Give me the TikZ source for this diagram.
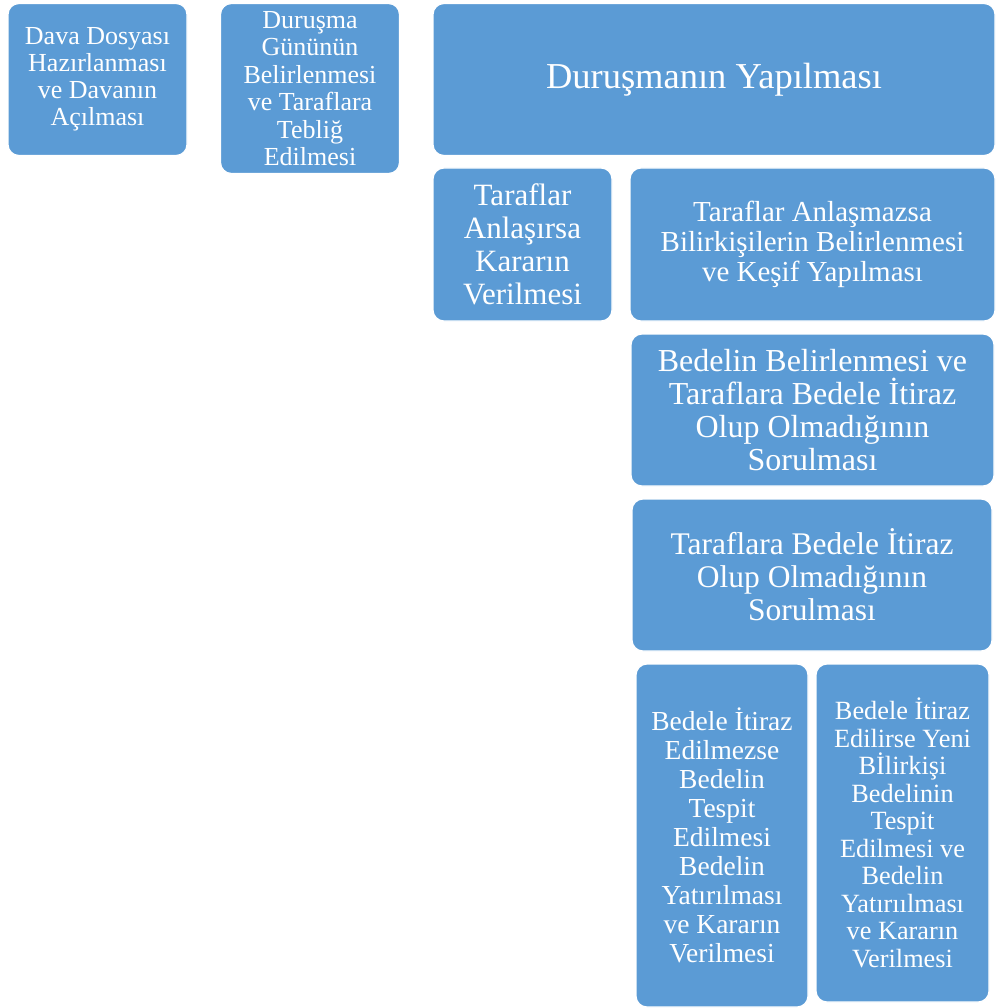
\documentclass[tikz,border=0pt]{standalone}
\usepackage{fontspec}
\setmainfont{Liberation Serif}
\definecolor{boxblue}{HTML}{5B9BD5}
\tikzset{
  stepbox/.style={rectangle, rounded corners=11pt, fill=boxblue, draw=white,
    line width=1.2pt, text=white, align=center, inner sep=0pt},
}
\newcommand{\fs}[1]{\fontsize{#1}{1.04*#1}\selectfont}
\newcommand{\boxfont}[2]{\fontsize{#1}{#2}\selectfont}
\begin{document}
\begin{tikzpicture}[x=1pt,y=-1pt]
\useasboundingbox (0,0) rectangle (996,1008);

% first row
\node[stepbox, minimum width=179pt, minimum height=152pt,
  font=\boxfont{26}{27}] (dava) at (97.5,79.5)
  {Dava Dosyası\\Hazırlanması\\ve Davanın\\Açılması};
\node[stepbox, minimum width=179pt, minimum height=170pt,
  font=\boxfont{26}{27.5}] (durusma) at (310,88.5)
  {Duruşma\\Gününün\\Belirlenmesi\\ve Taraflara\\Tebliğ\\Edilmesi};
\node[stepbox, minimum width=562pt, minimum height=152pt,
  font=\boxfont{36.5}{38}] (yapilma) at (714,79.5)
  {Duruşmanın Yapılması};

% hearing outcomes
\node[stepbox, minimum width=179pt, minimum height=153pt,
  font=\boxfont{31}{33}] (anlasirsa) at (522.5,244.5)
  {Taraflar\\Anlaşırsa\\Kararın\\Verilmesi};
\node[stepbox, minimum width=365pt, minimum height=153pt,
  font=\boxfont{29}{30}] (anlasmazsa) at (812.5,244.5)
  {Taraflar Anlaşmazsa\\Bilirkişilerin Belirlenmesi\\ve Keşif Yapılması};
\node[stepbox, minimum width=363pt, minimum height=152pt,
  font=\boxfont{32}{33}] (bedel) at (812.5,410)
  {Bedelin Belirlenmesi ve\\Taraflara Bedele İtiraz\\Olup Olmadığının\\Sorulması};
\node[stepbox, minimum width=360pt, minimum height=152pt,
  font=\boxfont{31.5}{33}] (itirazsor) at (812,575)
  {Taraflara Bedele İtiraz\\Olup Olmadığının\\Sorulması};

% objection branches
\node[stepbox, minimum width=172pt, minimum height=343pt,
  font=\boxfont{27.5}{29}] (itirazyok) at (722,835.5)
  {Bedele İtiraz\\Edilmezse\\Bedelin\\Tespit\\Edilmesi\\Bedelin\\Yatırılması\\ve Kararın\\Verilmesi};
\node[stepbox, minimum width=173pt, minimum height=338pt,
  font=\boxfont{26.3}{27.5}] (itirazvar) at (902.5,833)
  {Bedele İtiraz\\Edilirse Yeni\\Bİlirkişi\\Bedelinin\\Tespit\\Edilmesi ve\\Bedelin\\Yatırıılması\\ve Kararın\\Verilmesi};
\end{tikzpicture}
\end{document}
